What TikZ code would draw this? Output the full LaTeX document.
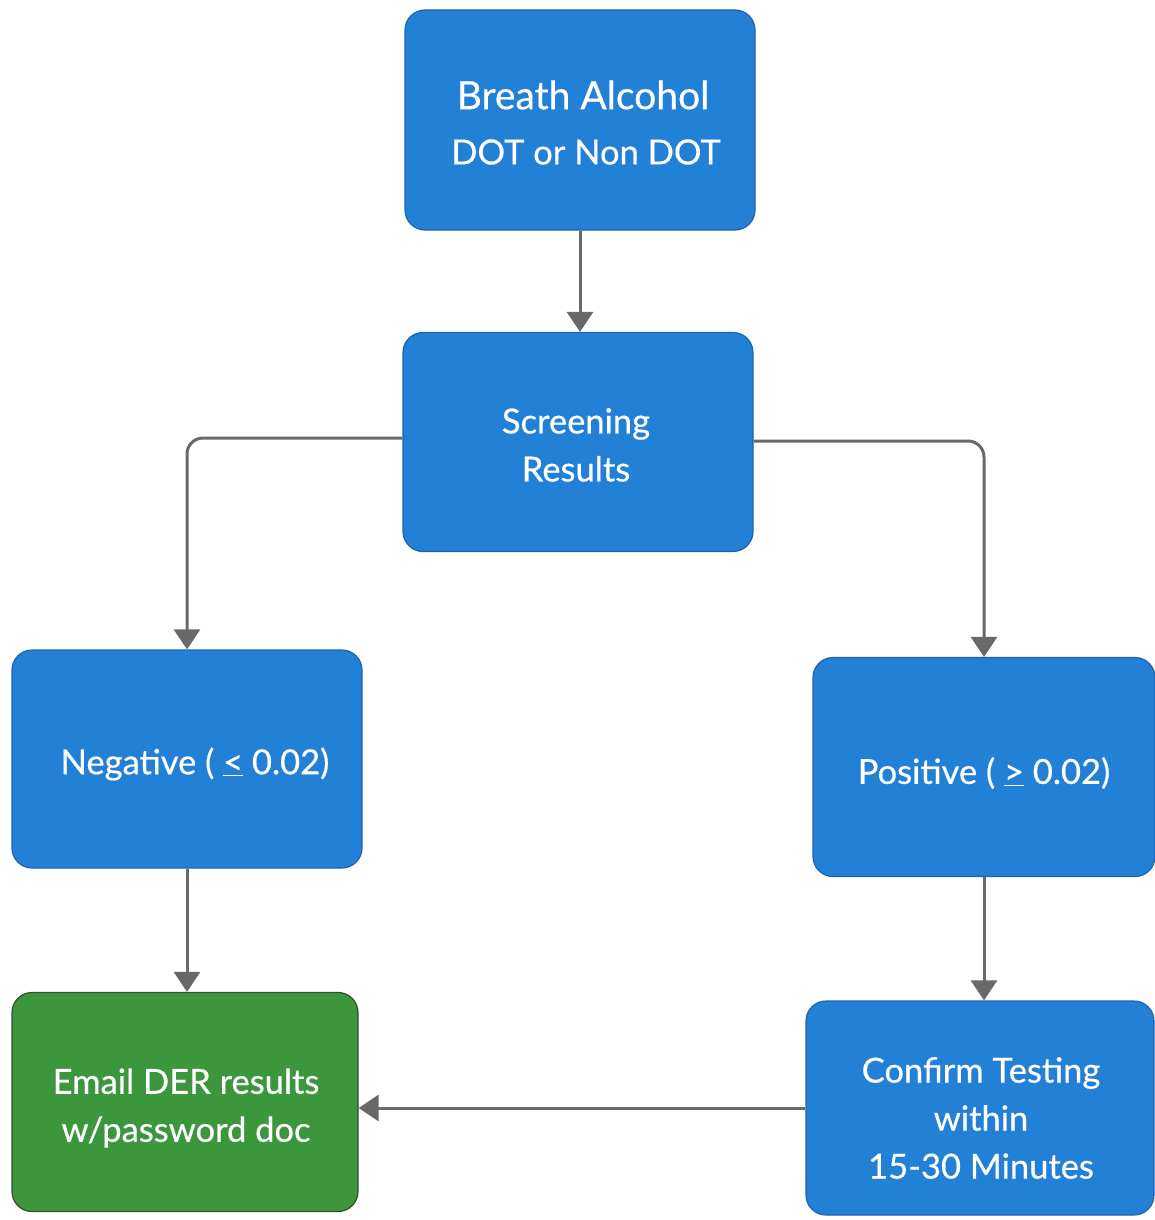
\documentclass[tikz,border=0pt]{standalone}
\usepackage{fontspec}
\setmainfont{Lato}[FakeBold=0.5]
\usetikzlibrary{arrows.meta}
\definecolor{boxblue}{RGB}{34,128,214}
\definecolor{boxblueedge}{RGB}{30,100,170}
\definecolor{boxgreen}{RGB}{60,150,60}
\definecolor{boxgreenedge}{RGB}{45,80,45}
\definecolor{arrowgray}{RGB}{105,105,108}
\tikzset{
  flowbox/.style={rectangle, rounded corners=20pt, fill=boxblue, draw=boxblueedge, line width=1.2pt,
    text=white, align=center, font=\fontsize{34.5}{48}\selectfont, inner sep=0pt},
  greenbox/.style={flowbox, fill=boxgreen, draw=boxgreenedge},
  label/.style={text=white, align=center, font=\fontsize{34.5}{48}\selectfont, inner sep=0pt},
  conn/.style={draw=arrowgray, line width=3pt, rounded corners=16pt,
    -{Triangle[width=26pt,length=20pt]}}
}
\begin{document}
\begin{tikzpicture}[x=1pt,y=-1pt]
\useasboundingbox (0,0) rectangle (1154,1220);
\node[flowbox, minimum width=350pt, minimum height=220pt] (breath) at (580,120) {};
\node[label, font=\fontsize{39}{57}\selectfont] (breathtxt1) at (583,95) {Breath Alcohol};
\node[label] (breathtxt2) at (586,152) {DOT or Non DOT};
\node[flowbox, minimum width=350pt, minimum height=219pt] (screen) at (578,442) {};
\node[label] (screentxt) at (576,445) {Screening\\ Results};
\node[flowbox, minimum width=350pt, minimum height=218pt] (neg) at (187,759) {};
\node[label] (negtxt) at (195,764) {Negative ( \underline{<} 0.02)};
\node[flowbox, minimum width=342pt, minimum height=219pt] (pos) at (984,767) {};
\node[label] (postxt) at (984,773) {Positive ( \underline{>} 0.02)};
\node[greenbox, minimum width=346pt, minimum height=219pt] (email) at (185,1102) {};
\node[label] (emailtxt) at (186,1108) {Email DER results\\ w/password doc};
\node[flowbox, minimum width=348pt, minimum height=214pt] (confirm) at (980,1108) {};
\node[label] (confirmtxt) at (981,1118) {Confirm Testing\\ within\\ 15-30 Minutes};
\draw[conn] (breath.south) -- (breath.south |- screen.north);
\draw[conn] ([yshift=4pt]screen.west) -| (neg.north);
\draw[conn] ([yshift=1pt]screen.east) -| (pos.north);
\draw[conn] (neg.south) -- (neg.south |- email.north);
\draw[conn] (pos.south) -- (pos.south |- confirm.north);
\draw[conn] (confirm.west) -- (confirm.west -| email.east);
\end{tikzpicture}
\end{document}
